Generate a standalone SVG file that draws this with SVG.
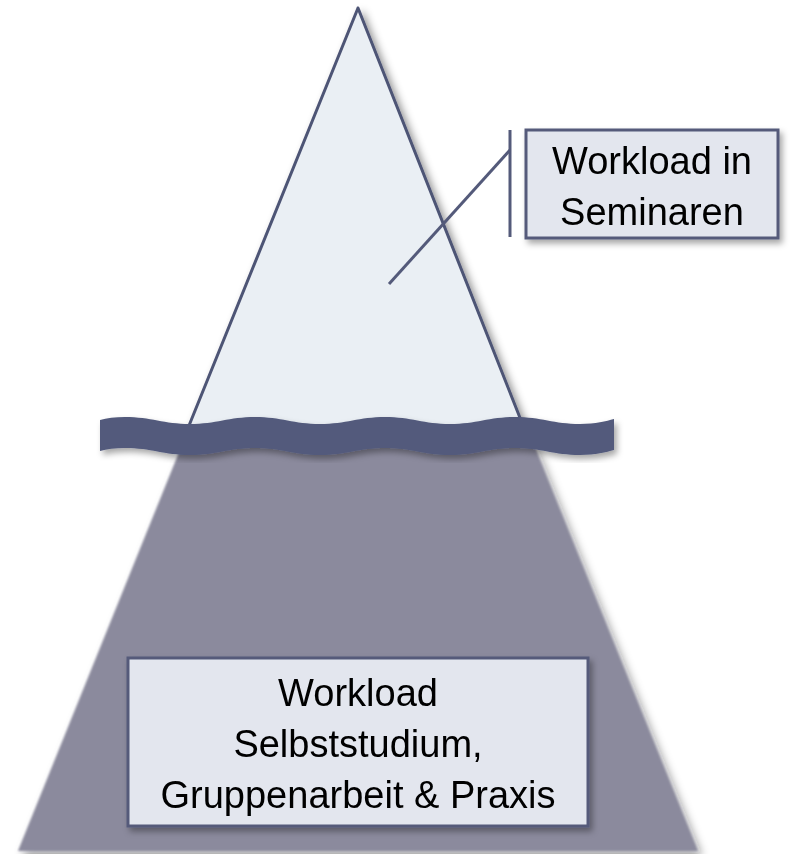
<svg xmlns="http://www.w3.org/2000/svg" width="794" height="854" viewBox="0 0 794 854">
<defs>
<filter id="sh" x="-20%" y="-20%" width="140%" height="140%">
<feDropShadow dx="4" dy="5" stdDeviation="4" flood-color="#000" flood-opacity="0.45"/>
</filter>
<filter id="shb" x="-20%" y="-20%" width="140%" height="140%">
<feGaussianBlur in="SourceGraphic" stdDeviation="1.2" result="b"/>
<feDropShadow in="b" dx="4" dy="5" stdDeviation="4" flood-color="#000" flood-opacity="0.4"/>
</filter>
<filter id="shs" x="-20%" y="-20%" width="140%" height="140%">
<feDropShadow dx="3" dy="4" stdDeviation="3" flood-color="#000" flood-opacity="0.35"/>
</filter>
</defs>
<style>
.lbl{font-family:"Gill Sans","Liberation Sans",Arial,sans-serif;font-size:38px;fill:#000;text-anchor:middle}
.box{fill:#e3e6ee;stroke:#545a7a;stroke-width:3}
.con{stroke:#545a7a;stroke-width:3;fill:none}
</style>
<rect width="794" height="854" fill="#fff"/>
<g id="iceberg-bottom" filter="url(#shb)">
<polygon points="184,440 532,440 698,851 18,851" fill="#8b8a9d"/>
</g>
<g id="iceberg-top" filter="url(#sh)">
<polygon points="358,8 186,433 526,433" fill="#eaeff4" stroke="#4e5475" stroke-width="3" stroke-linejoin="round"/>
</g>
<g id="wave" filter="url(#shs)">
<path d="M100,420 Q110,417 125,417 C151,417 164,424 190,424 C216,424 229,417 255,417 C281,417 294,424 320,424 C346,424 359,417 385,417 C411,417 424,424 450,424 C476,424 489,417 515,417 C541,417 554,424 580,424 C596,424 606,421 614,419 L614,450 C606,452 596,455 580,455 C554,455 541,448 515,448 C489,448 476,455 450,455 C424,455 411,448 385,448 C359,448 346,455 320,455 C294,455 281,448 255,448 C229,448 216,455 190,455 C164,455 151,448 125,448 Q110,448 100,451 Z" fill="#525a7c"/>
</g>
<g id="connectors">
<line class="con" x1="389" y1="284" x2="510" y2="150"/>
<line class="con" x1="510" y1="130" x2="510" y2="237"/>
</g>
<g id="label-seminare" filter="url(#shs)">
<rect class="box" x="526" y="130" width="252" height="108"/>
<text class="lbl" x="652" y="174">Workload in</text>
<text class="lbl" x="652" y="225">Seminaren</text>
</g>
<g id="label-selbststudium" filter="url(#shs)">
<rect class="box" x="128" y="658" width="460" height="168"/>
<text class="lbl" x="358" y="706">Workload</text>
<text class="lbl" x="358" y="757">Selbststudium,</text>
<text class="lbl" x="358" y="808">Gruppenarbeit &amp; Praxis</text>
</g>
</svg>
